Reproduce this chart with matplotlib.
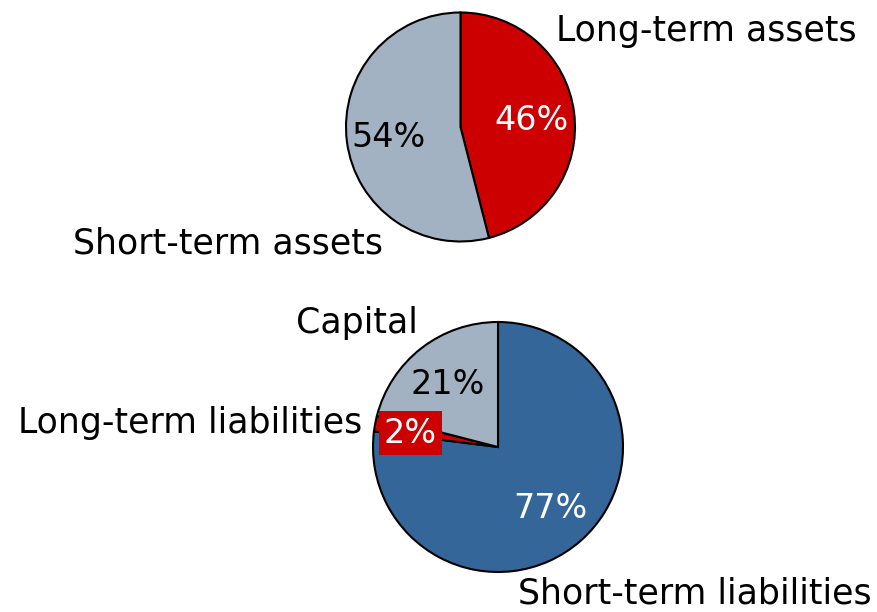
import matplotlib
matplotlib.use("Agg")
import matplotlib.pyplot as plt

# data
asset_labels = ["Long-term assets", "Short-term assets"]
asset_values = [46, 54]
asset_colors = ["#cc0000", "#a3b2c2"]

liab_labels = ["Short-term liabilities", "Long-term liabilities", "Capital"]
liab_values = [77, 2, 21]
liab_colors = ["#346699", "#cc0000", "#a3b2c2"]

plt.rcParams["font.family"] = "DejaVu Sans"
fig = plt.figure(figsize=(8.77, 6.12), dpi=100)

wedge = dict(edgecolor="black", linewidth=1.5)

# top pie - assets
ax1 = fig.add_axes([346 / 877, 370.5 / 612, 229 / 877, 229 / 612])
ax1.pie(asset_values, colors=asset_colors, startangle=90, counterclock=False,
        wedgeprops=wedge)
ax1.set_xlim(-1, 1)
ax1.set_ylim(-1, 1)
ax1.set_aspect("equal")
ax1.axis("off")

fs_lab = 25
fs_pct = 24
ax1.text(0.62, 0.06, f"{asset_values[0]}%", color="white", fontsize=fs_pct,
         ha="center", va="center")
ax1.text(-0.63, -0.09, f"{asset_values[1]}%", color="black", fontsize=fs_pct,
         ha="center", va="center")
ax1.text(0.83, 0.84, asset_labels[0], fontsize=fs_lab, ha="left", va="center", clip_on=False)
ax1.text(-0.68, -1.02, asset_labels[1], fontsize=fs_lab, ha="right", va="center", clip_on=False)

# bottom pie - liabilities
ax2 = fig.add_axes([373 / 877, 40 / 612, 250 / 877, 250 / 612])
ax2.pie(liab_values, colors=liab_colors, startangle=90, counterclock=False,
        wedgeprops=wedge)
ax2.set_xlim(-1, 1)
ax2.set_ylim(-1, 1)
ax2.set_aspect("equal")
ax2.axis("off")

ax2.text(0.42, -0.49, f"{liab_values[0]}%", color="white", fontsize=fs_pct,
         ha="center", va="center")
ax2.text(-0.70, 0.11, f"{liab_values[1]}%", color="white", fontsize=fs_pct,
         ha="center", va="center",
         bbox=dict(boxstyle="square,pad=0.16", facecolor="#cc0000", edgecolor="none"))
ax2.text(-0.40, 0.50, f"{liab_values[2]}%", color="black", fontsize=fs_pct,
         ha="center", va="center")
ax2.text(0.16, -1.17, liab_labels[0], fontsize=fs_lab, ha="left", va="center", clip_on=False)
ax2.text(-1.09, 0.19, liab_labels[1], fontsize=fs_lab, ha="right", va="center", clip_on=False)
ax2.text(-0.64, 0.99, liab_labels[2], fontsize=fs_lab, ha="right", va="center", clip_on=False)

fig.savefig("out.png", dpi=100)
